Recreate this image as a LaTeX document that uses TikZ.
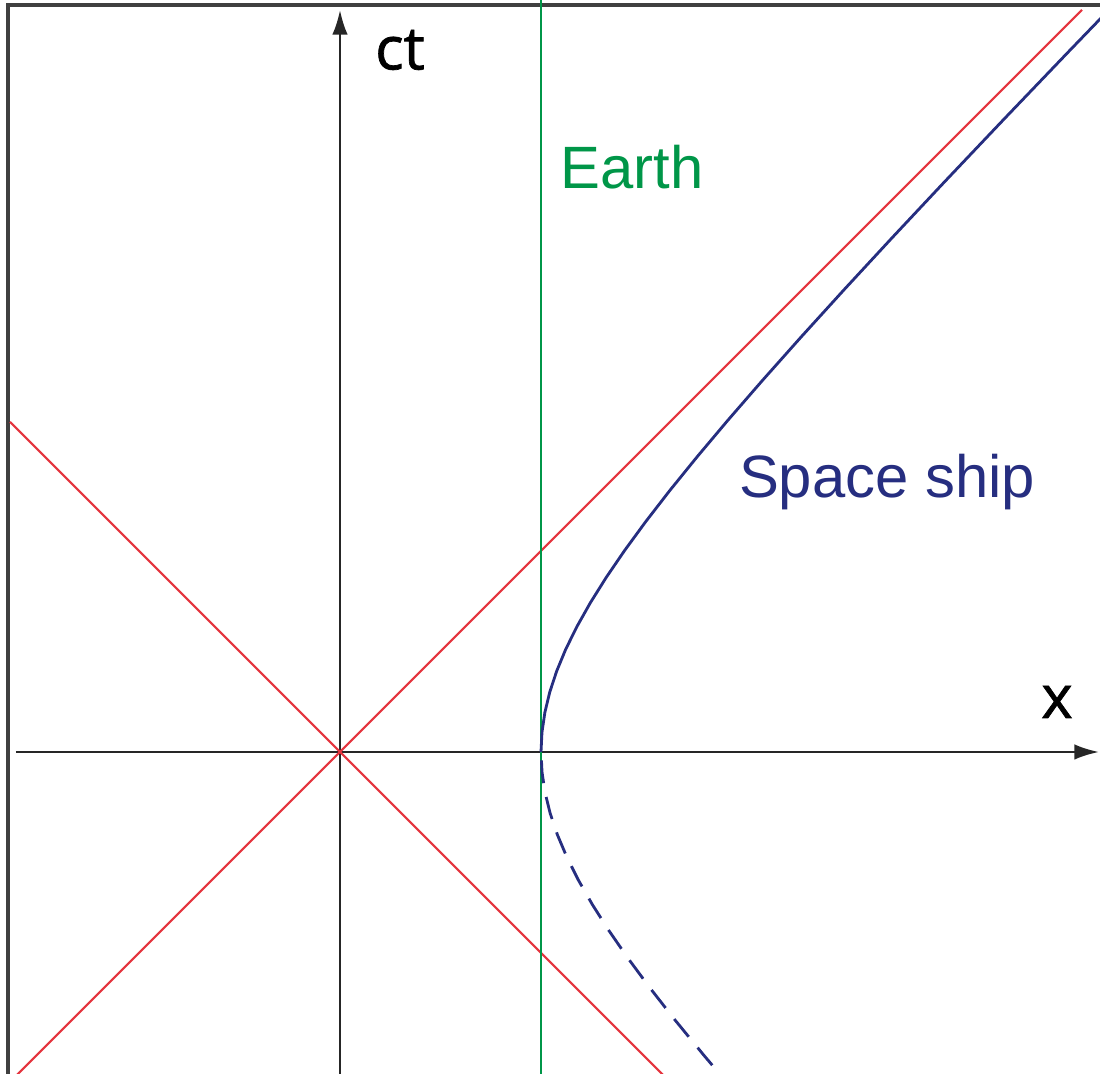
\documentclass[tikz,border=0pt]{standalone}
\usepackage{fontspec}
\setmainfont{Liberation Sans}
\newfontfamily\axisfont[FakeBold=1.2]{Open Sans}
\usetikzlibrary{arrows.meta}
\definecolor{lightred}{RGB}{228,52,62}
\definecolor{earthgreen}{RGB}{0,150,72}
\definecolor{shipblue}{RGB}{38,46,128}
\begin{document}
\begin{tikzpicture}[
  x=0.01cm, y=0.01cm,
  every node/.style={font=\fontsize{17}{20}\selectfont},
  axis/.style={draw=black!85, line width=0.7pt, -{Latex[length=7pt,width=4.4pt]}},
  lightline/.style={draw=lightred, line width=0.6pt},
  earthline/.style={draw=earthgreen, line width=0.8pt},
  ship/.style={draw=shipblue, line width=0.8pt},
  shipdash/.style={ship, dash pattern=on 6.5pt off 4pt}
]
\def\a{201}
\useasboundingbox (-340,-322) rectangle (760,752);
\clip (-340,-322) rectangle (760,752);
\draw[black!75, line width=0.9pt] (-332,-360) rectangle (800,747);

% axes
\coordinate (o) at (0,0);
\coordinate (tlow) at (0,-340);
\coordinate (ttop) at (0,742);
\coordinate (xleft) at (-324,0);
\coordinate (xright) at (759,0);
\draw[axis] (tlow) -- (ttop);
\draw[axis] (xleft) -- (xright);
\node[font=\axisfont\fontsize{17}{20}\selectfont] (ctlabel) at (60,702) {ct};
\node[font=\axisfont\fontsize{17}{20}\selectfont] (xlabel) at (717,50) {x};

% light cone
\coordinate (lc1) at (-340,-340);
\coordinate (lc2) at (742,742);
\coordinate (lc3) at (-330,330);
\coordinate (lc4) at (340,-340);
\draw[lightline] (lc1) -- (lc2);
\draw[lightline] (lc3) -- (lc4);

% earth
\coordinate (e1) at (\a,-340);
\coordinate (e2) at (\a,760);
\draw[earthline] (e1) -- (e2);
\node[text=earthgreen] (earth) at (292,585) {Earth};

% space ship
\draw[ship] plot[domain=0:2.06, samples=22, variable=\s] ({\a*cosh(\s)},{\a*sinh(\s)});
\draw[shipdash] plot[domain=-1.3:0, samples=14, variable=\s] ({\a*cosh(\s)},{\a*sinh(\s)});
\node[text=shipblue] (ship) at (547,270) {Space ship};
\end{tikzpicture}
\end{document}
